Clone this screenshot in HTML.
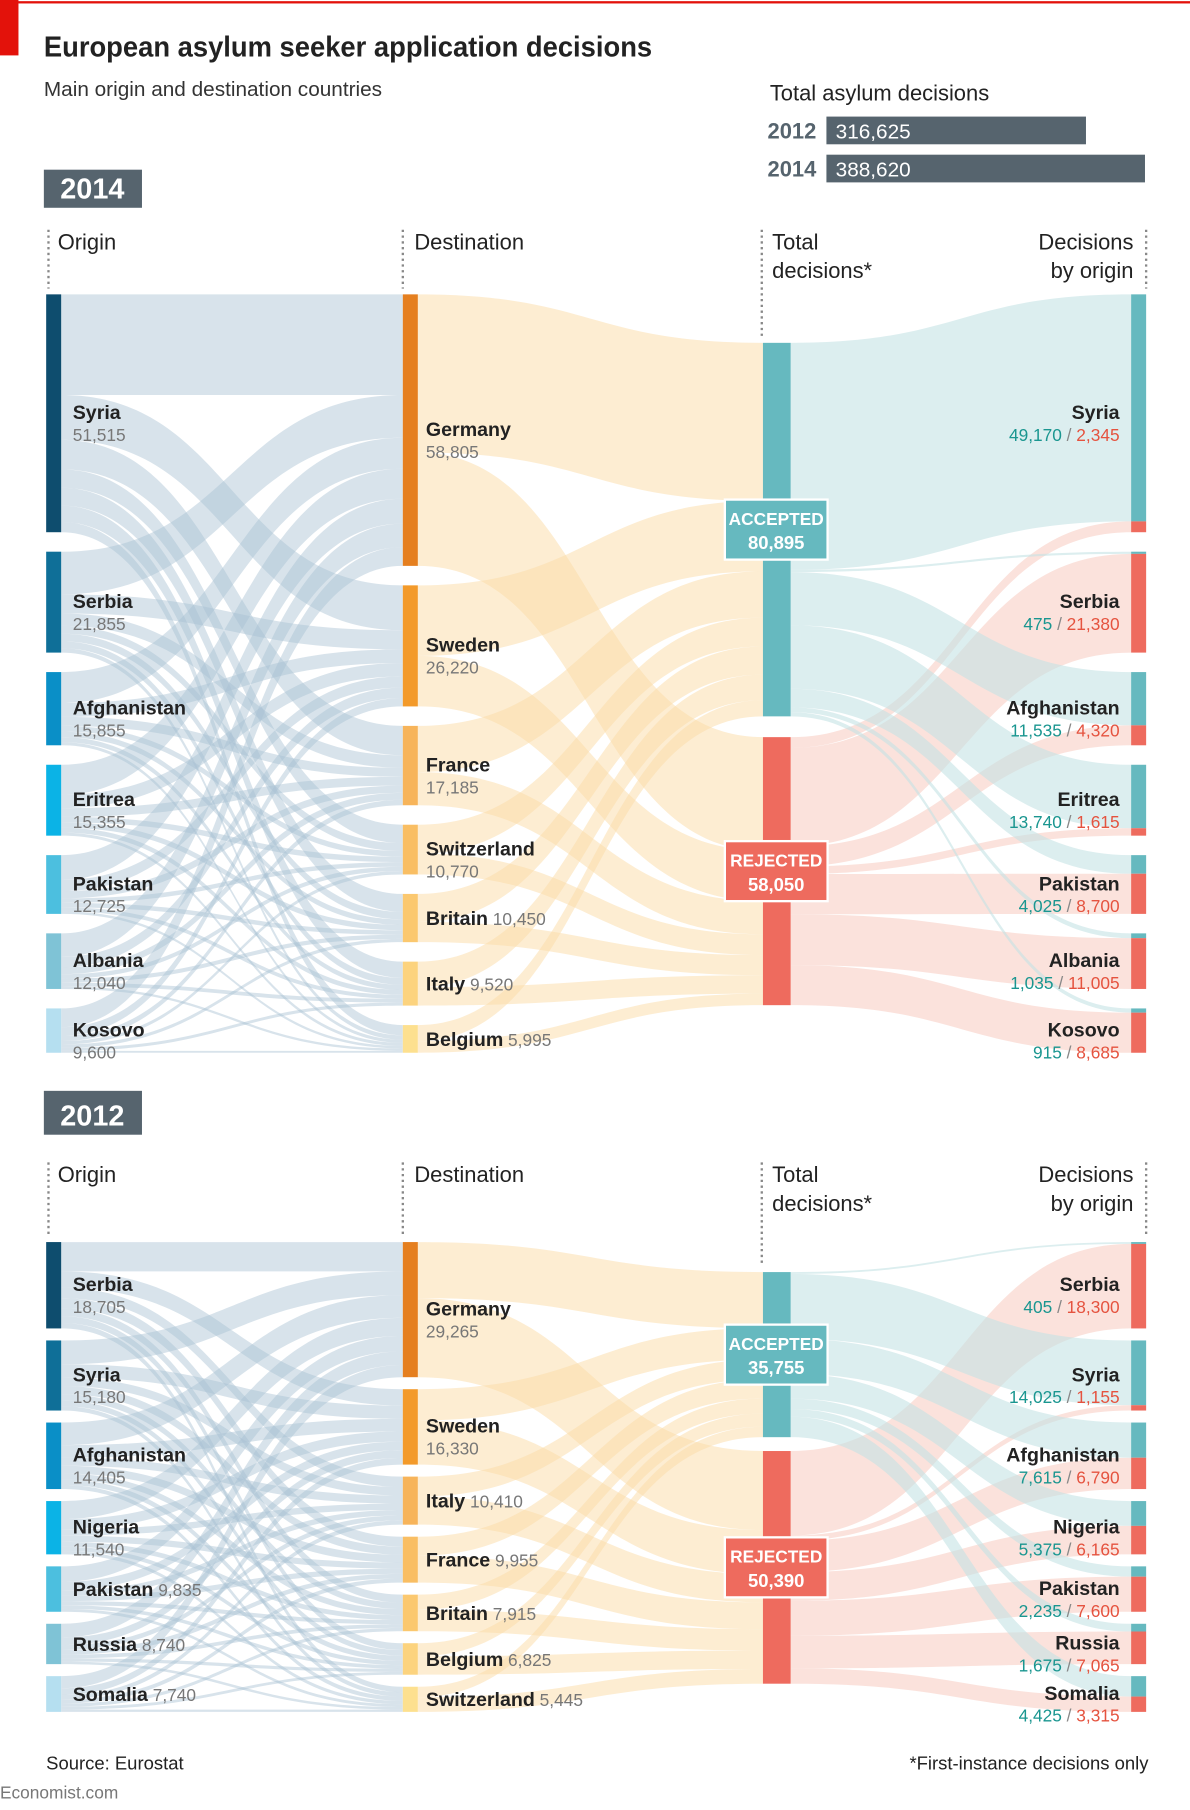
<!DOCTYPE html>
<html><head><meta charset="utf-8">
<style>
html,body{margin:0;padding:0;background:#fff;}
svg{display:block;font-family:"Liberation Sans",sans-serif;}
</style></head>
<body>
<svg id="chart" width="1190" height="1810" viewBox="0 0 1031 1568" preserveAspectRatio="none" xmlns="http://www.w3.org/2000/svg">
  <rect x="0" y="0" width="16" height="48" fill="#e3120b"/>
  <rect x="16" y="1" width="1015" height="2" fill="#e3120b"/>
  <text x="38" y="49" font-size="25" font-weight="bold" fill="#222" textLength="527" lengthAdjust="spacingAndGlyphs">European asylum seeker application decisions</text>
  <text x="38" y="83" font-size="18" fill="#333">Main origin and destination countries</text>
  <g id="totals">
    <text x="667" y="87" font-size="19" fill="#222">Total asylum decisions</text>
  </g>
  <g id="p2014"></g>
  <g id="p2012"></g>
  <text x="40" y="1533" font-size="16" fill="#222">Source: Eurostat</text>
  <text x="995" y="1533" font-size="16" fill="#222" text-anchor="end">*First-instance decisions only</text>
  <text x="0" y="1558" font-size="15" fill="#777">Economist.com</text>
</svg>
<script>
// ---- data ----
const totalYears = ["2012", "2014"];
const totalValues = [316625, 388620];

const origins2014 = ["Syria","Serbia","Afghanistan","Eritrea","Pakistan","Albania","Kosovo"];
const originVals2014 = [51515,21855,15855,15355,12725,12040,9600];
const accepted2014 = [49170,475,11535,13740,4025,1035,915];
const rejected2014 = [2345,21380,4320,1615,8700,11005,8685];
const dests2014 = ["Germany","Sweden","France","Switzerland","Britain","Italy","Belgium"];
const destVals2014 = [58805,26220,17185,10770,10450,9520,5995];
const totAcc2014 = 80895, totRej2014 = 58050;

const origins2012 = ["Serbia","Syria","Afghanistan","Nigeria","Pakistan","Russia","Somalia"];
const originVals2012 = [18705,15180,14405,11540,9835,8740,7740];
const accepted2012 = [405,14025,7615,5375,2235,1675,4425];
const rejected2012 = [18300,1155,6790,6165,7600,7065,3315];
const dests2012 = ["Germany","Sweden","Italy","France","Britain","Belgium","Switzerland"];
const destVals2012 = [29265,16330,10410,9955,7915,6825,5445];
const totAcc2012 = 35755, totRej2012 = 50390;

const NS = "http://www.w3.org/2000/svg";
function el(tag, attrs, parent, txt){
  const e = document.createElementNS(NS, tag);
  for (const k in attrs) e.setAttribute(k, attrs[k]);
  if (txt !== undefined) e.textContent = txt;
  parent.appendChild(e);
  return e;
}
const fmt = v => v.toLocaleString("en-US");

(function(){
  const g = document.getElementById("totals");
  const xScale = v => 716 + v * (276 / 388620);
  const ys = [101, 134];
  totalYears.forEach((yr, i) => {
    const r = el("rect", {x:716, y:ys[i], width:xScale(totalValues[i]) - 716, height:24, fill:"#56646e"}, g);
    
    
    const t = el("text", {x:665, y:ys[i]+19, "font-size":19, "font-weight":"bold", fill:"#56646e"}, g, yr);
    
    
    const v = el("text", {x:724, y:ys[i]+19, "font-size":18, fill:"#fff"}, g, fmt(totalValues[i]));
    
    
  });
})();

function ribbon(x0, a0, b0, x1, a1, b1){
  const xm = (x0 + x1) / 2;
  return `M${x0},${a0} C${xm},${a0} ${xm},${a1} ${x1},${a1} L${x1},${b1} C${xm},${b1} ${xm},${b0} ${x0},${b0} Z`;
}

function panel(g, cfg){
  const k = 0.004;
  const sum = cfg.ov.reduce((a,b)=>a+b,0);
  const n = cfg.ov.length;
  const oGap = (cfg.bottom - cfg.top - sum*k) / (n-1);
  const dGap = (cfg.bottom - cfg.top - sum*k) / (cfg.dv.length-1);
  const oPos = []; let y = cfg.top;
  cfg.ov.forEach(v => { oPos.push(y); y += v*k + oGap; });
  const dPos = []; y = cfg.top;
  cfg.dv.forEach(v => { dPos.push(y); y += v*k + dGap; });
  const accTop = cfg.ttop, rejTop = cfg.ttop + cfg.ta*k + cfg.tgap;

  const hb = el("rect", {x:38, y:cfg.hy, width:85, height:cfg.hh, fill:"#56646e"}, g);
  
  
  const ht = el("text", {x:80, y:cfg.hy+cfg.hh-8, "font-size":25, "font-weight":"bold", fill:"#fff", "text-anchor":"middle"}, g, cfg.year);
  
  

  const hdrs = [
    {x:42, tx:50, lines:["Origin"], end:cfg.top-5, anchor:"start", name:"origin-header"},
    {x:349, tx:359, lines:["Destination"], end:cfg.top-5, anchor:"start", name:"destination-header"},
    {x:660, tx:669, lines:["Total","decisions*"], end:accTop-5, anchor:"start", name:"total-header"},
    {x:993, tx:982, lines:["Decisions","by origin"], end:cfg.top-5, anchor:"end", name:"decisions-header"}
  ];
  hdrs.forEach(h => {
    const l = el("line", {x1:h.x, x2:h.x, y1:cfg.hdrY-17, y2:h.end, stroke:"#888", "stroke-width":2, "stroke-dasharray":"2,3"}, g);
    
    
    h.lines.forEach((s,i) => {
      const t = el("text", {x:h.tx, y:cfg.hdrY + i*25, "font-size":19, fill:"#222", "text-anchor":h.anchor}, g, s);
      
      
    });
  });

  const links = el("g", {}, g);
  const oOff = oPos.slice(), dOff = dPos.slice();
  cfg.ov.forEach((ov, i) => {
    cfg.dv.forEach((dv, j) => {
      const f = ov * dv / sum;
      const h = f*k;
      const p = el("path", {d:ribbon(53, oOff[i], oOff[i]+h, 349, dOff[j], dOff[j]+h), fill:"#a9c2d3", "fill-opacity":0.45}, links);
      
      
      oOff[i] += h; dOff[j] += h;
    });
  });
  let aOff = accTop, rOff = rejTop;
  cfg.dv.forEach((dv, j) => {
    const ha = dv * cfg.ta / sum * k, hr = dv * cfg.tr / sum * k;
    const y0 = dPos[j];
    const p1 = el("path", {d:ribbon(362, y0, y0+ha, 661, aOff, aOff+ha), fill:"#fbdca6", "fill-opacity":0.5}, links);
    
    
    const p2 = el("path", {d:ribbon(362, y0+ha, y0+ha+hr, 661, rOff, rOff+hr), fill:"#fbdca6", "fill-opacity":0.5}, links);
    
    
    aOff += ha; rOff += hr;
  });
  aOff = accTop; rOff = rejTop;
  cfg.ov.forEach((ov, i) => {
    const ha = cfg.acc[i]*k, hr = cfg.rej[i]*k, y0 = oPos[i];
    const p1 = el("path", {d:ribbon(685, aOff, aOff+ha, 980, y0, y0+ha), fill:"#c4e3e5", "fill-opacity":0.6}, links);
    
    
    const p2 = el("path", {d:ribbon(685, rOff, rOff+hr, 980, y0+ha, y0+ha+hr), fill:"#f7cbbf", "fill-opacity":0.55}, links);
    
    
    aOff += ha; rOff += hr;
  });

  cfg.ov.forEach((v, i) => {
    const h = v*k, c = oPos[i] + h/2;
    const r = el("rect", {x:40, y:oPos[i], width:13, height:h, fill:cfg.oc[i]}, g);
    
    
    const t = el("text", {x:63, y:cfg.omode[i] ? c+5 : c+6, "font-size":17, "font-weight":"bold", fill:"#222"}, g);
    
    
    el("tspan", {}, t, cfg.on[i]);
    if (cfg.omode[i]) el("tspan", {x:63, dy:19, "font-size":15, "font-weight":"normal", fill:"#777"}, t, fmt(v));
    else el("tspan", {"font-size":15, "font-weight":"normal", fill:"#777"}, t, " " + fmt(v));
  });
  cfg.dv.forEach((v, j) => {
    const h = v*k, c = dPos[j] + h/2;
    const r = el("rect", {x:349, y:dPos[j], width:13, height:h, fill:cfg.dc[j]}, g);
    
    
    const t = el("text", {x:369, y:cfg.dmode[j] ? c+5 : c+6, "font-size":17, "font-weight":"bold", fill:"#222"}, g);
    
    
    el("tspan", {}, t, cfg.dn[j]);
    if (cfg.dmode[j]) el("tspan", {x:369, dy:19, "font-size":15, "font-weight":"normal", fill:"#777"}, t, fmt(v));
    else el("tspan", {"font-size":15, "font-weight":"normal", fill:"#777"}, t, " " + fmt(v));
  });
  [["ACCEPTED", cfg.ta, accTop, "#66b9bf"], ["REJECTED", cfg.tr, rejTop, "#ee6b5e"]].forEach(d => {
    const h = d[1]*k;
    const r = el("rect", {x:661, y:d[2], width:24, height:h, fill:d[3]}, g);
    
    
    const c = d[2] + h/2;
    const b = el("rect", {x:628, y:c-26, width:89, height:52, fill:d[3], stroke:"#fff", "stroke-width":2}, g);
    
    
    const t1 = el("text", {x:672.5, y:c-4, "font-size":15, "font-weight":"bold", fill:"#fff", "text-anchor":"middle"}, g, d[0]);
    
    
    const t2 = el("text", {x:672.5, y:c+17, "font-size":16, "font-weight":"bold", fill:"#fff", "text-anchor":"middle"}, g, fmt(d[1]));
    
    
  });
  cfg.ov.forEach((v, i) => {
    const ha = cfg.acc[i]*k, hr = cfg.rej[i]*k, y0 = oPos[i];
    const r1 = el("rect", {x:980, y:y0, width:13, height:ha, fill:"#66b9bf"}, g);
    
    
    const r2 = el("rect", {x:980, y:y0+ha, width:13, height:hr, fill:"#ee6b5e"}, g);
    
    
    const c = y0 + (ha+hr)/2;
    const t = el("text", {x:970, y:c+5, "font-size":17, "font-weight":"bold", fill:"#222", "text-anchor":"end"}, g, cfg.on[i]);
    
    
    const t2 = el("text", {x:970, y:c+24, "font-size":15, "text-anchor":"end"}, g);
    
    
    el("tspan", {fill:"#1a9690"}, t2, fmt(cfg.acc[i]));
    el("tspan", {fill:"#888"}, t2, " / ");
    el("tspan", {fill:"#e5533f"}, t2, fmt(cfg.rej[i]));
  });
}

const blues = ["#0e4d6e","#0f6f98","#0a8fc7","#0bb3e6","#4cbfdf","#7fc3d6","#b5dff0"];
const oranges = ["#e57f1f","#f39a2a","#f7b45a","#f9be63","#fbc86f","#fcd37e","#fde08f"];

panel(document.getElementById("p2014"), {
  year:"2014", hy:147, hh:33, hdrY:216, top:255, bottom:912, ttop:297, tgap:18,
  on:origins2014, ov:originVals2014, acc:accepted2014, rej:rejected2014,
  dn:dests2014, dv:destVals2014, ta:totAcc2014, tr:totRej2014,
  oc:blues, dc:oranges,
  omode:[1,1,1,1,1,1,1], dmode:[1,1,1,1,0,0,0]
});
panel(document.getElementById("p2012"), {
  year:"2012", hy:945, hh:38, hdrY:1024, top:1076, bottom:1483, ttop:1102, tgap:12,
  on:origins2012, ov:originVals2012, acc:accepted2012, rej:rejected2012,
  dn:dests2012, dv:destVals2012, ta:totAcc2012, tr:totRej2012,
  oc:blues, dc:oranges,
  omode:[1,1,1,1,0,0,0], dmode:[1,1,0,0,0,0,0]
});
</script>
</body></html>
